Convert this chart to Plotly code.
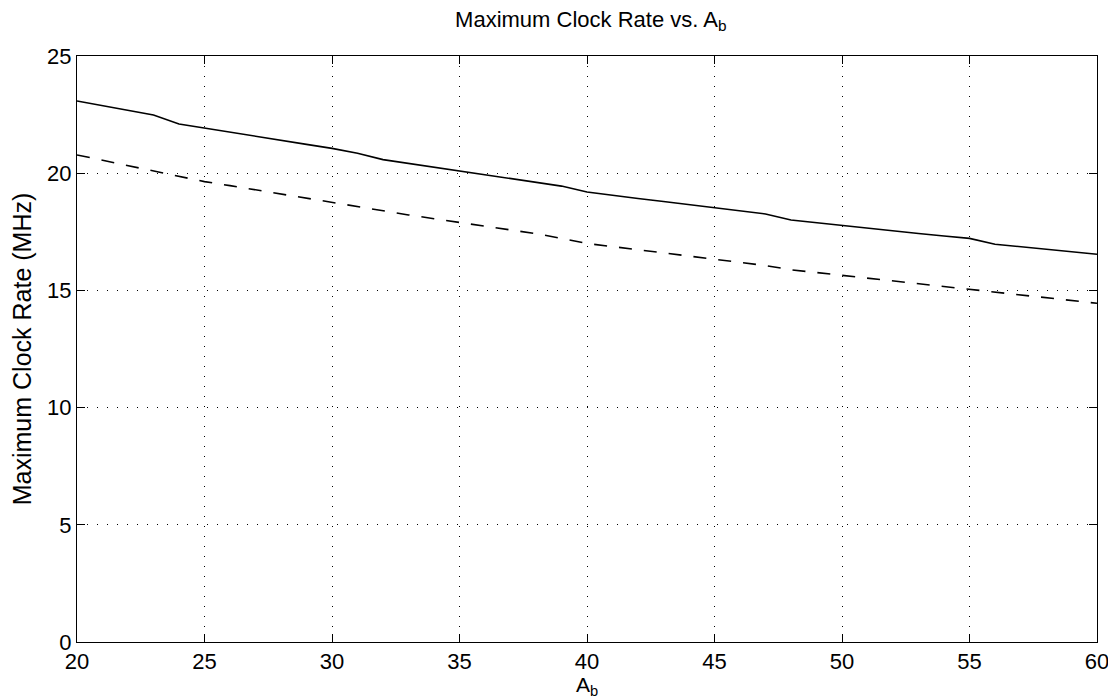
import plotly.graph_objects as go

x_vals = list(range(20, 61))
solid_rate = [23.08, 22.88, 22.68, 22.48, 22.10, 21.92, 21.75, 21.58, 21.40, 21.23,
              21.06, 20.85, 20.58, 20.42, 20.25, 20.09, 19.93, 19.77, 19.61, 19.45,
              19.20, 19.05, 18.92, 18.79, 18.66, 18.53, 18.40, 18.26, 18.00, 17.88,
              17.76, 17.65, 17.54, 17.43, 17.32, 17.22, 16.97, 16.87, 16.76, 16.65,
              16.54]
dashed_rate = [20.78, 20.55, 20.32, 20.10, 19.87, 19.64, 19.47, 19.29, 19.11, 18.94,
               18.76, 18.56, 18.38, 18.22, 18.06, 17.90, 17.74, 17.58, 17.42, 17.22,
               17.00, 16.87, 16.74, 16.60, 16.47, 16.33, 16.20, 16.06, 15.88, 15.76,
               15.63, 15.52, 15.40, 15.29, 15.17, 15.06, 14.92, 14.80, 14.68, 14.56,
               14.45]
x_ticks = [20, 25, 30, 35, 40, 45, 50, 55, 60]
y_ticks = [0, 5, 10, 15, 20, 25]

fig = go.Figure()
fig.add_trace(go.Scatter(x=x_vals, y=solid_rate, mode="lines",
                         line=dict(color="black", width=1.6), showlegend=False))
fig.add_trace(go.Scatter(x=x_vals, y=dashed_rate, mode="lines",
                         line=dict(color="black", width=1.6, dash="13px,12px"),
                         showlegend=False))

font_family = "Liberation Sans, Arial, Helvetica, sans-serif"
axis_common = dict(showline=True, linecolor="black", linewidth=1, mirror="ticks",
                   ticks="inside", ticklen=8, tickcolor="black",
                   showgrid=True, gridcolor="black", griddash="1px,9px", gridwidth=1,
                   zeroline=False, automargin=False,
                   tickfont=dict(size=22, color="black", family=font_family))

fig.update_layout(
    width=1108, height=692,
    margin=dict(l=69, r=19, t=48, b=58),
    paper_bgcolor="white", plot_bgcolor="white",
    title=dict(text="Maximum Clock Rate vs. A<sub>b</sub>", x=0.526, xanchor="center",
               y=0.984, yanchor="middle",
               font=dict(size=22, color="black", family=font_family)),
    xaxis=dict(range=[20, 60], tickvals=x_ticks, ticktext=[str(v) for v in x_ticks],
               ticklabelstandoff=0, **axis_common),
    yaxis=dict(range=[0, 25], tickvals=y_ticks, ticktext=[str(v) for v in y_ticks],
               title=dict(text="Maximum Clock Rate (MHz)", standoff=8,
                          font=dict(size=25, color="black", family=font_family)),
               **axis_common),
    annotations=[dict(text="A<sub>b</sub>", xref="paper", yref="paper", x=0.5, y=0,
                      xanchor="center", yanchor="top", yshift=-29, showarrow=False,
                      font=dict(size=21, color="black", family=font_family))],
)

fig.write_html("out.html")
